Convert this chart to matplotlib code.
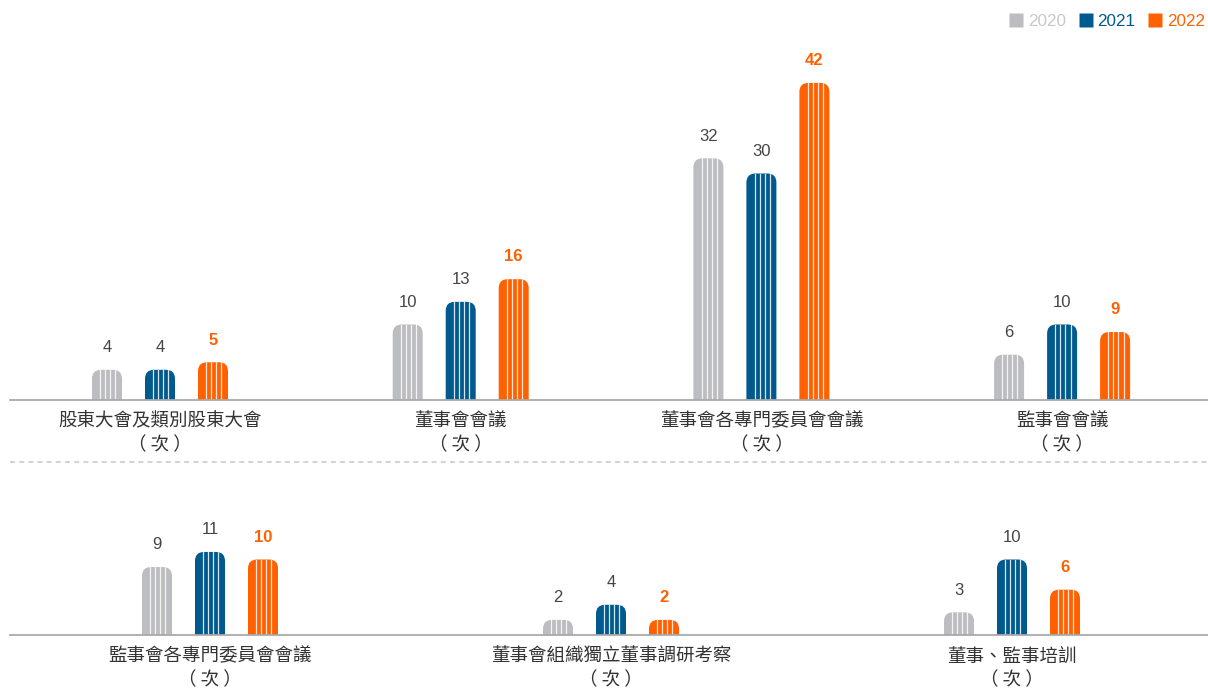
import matplotlib
matplotlib.use("Agg")
import matplotlib.pyplot as plt
from matplotlib.path import Path
from matplotlib.patches import PathPatch
from matplotlib.lines import Line2D

plt.rcParams['font.family'] = ['Liberation Sans', 'Noto Sans CJK TC']
CJK = ['Noto Sans CJK TC', 'DejaVu Sans']

# data
years = ['2020', '2021', '2022']
colors = ['#BCBDC0', '#005A8E', '#FF6000']
label_colors = ['#444444', '#444444', '#FF6000']

top_categories = ['股東大會及類別股東大會', '董事會會議', '董事會各專門委員會會議', '監事會會議']
top_2020 = [4, 10, 32, 6]
top_2021 = [4, 13, 30, 10]
top_2022 = [5, 16, 42, 9]

bottom_categories = ['監事會各專門委員會會議', '董事會組織獨立董事調研考察', '董事、監事培訓']
bottom_2020 = [9, 2, 3]
bottom_2021 = [11, 4, 10]
bottom_2022 = [10, 2, 6]

unit_label = '（ 次 ）'

W, H = 1208, 695
fig = plt.figure(figsize=(W / 100, H / 100), dpi=100)


def px_axes(left, top, right, bottom):
    ax = fig.add_axes([left / W, 1 - bottom / H, (right - left) / W, (bottom - top) / H])
    ax.axis('off')
    return ax


def scale(ax):
    x0, x1 = ax.get_xlim()
    y0, y1 = ax.get_ylim()
    pos = ax.get_position()
    return pos.width * W / (x1 - x0), pos.height * H / (y1 - y0)


def rounded_bar(ax, xc, h, color, w_px=30, r_px=9):
    sx, sy = scale(ax)
    w = w_px / sx
    rx = r_px / sx
    ry = min(r_px / sy, h)
    l, r = xc - w / 2, xc + w / 2
    verts = [(l, 0), (l, h - ry), (l, h), (l + rx, h), (r - rx, h), (r, h),
             (r, h - ry), (r, 0), (l, 0)]
    codes = [Path.MOVETO, Path.LINETO, Path.CURVE3, Path.CURVE3, Path.LINETO,
             Path.CURVE3, Path.CURVE3, Path.LINETO, Path.CLOSEPOLY]
    patch = PathPatch(Path(verts, codes), facecolor=color, edgecolor='none', zorder=2)
    ax.add_patch(patch)
    for f in (0.27, 0.44, 0.61, 0.78):
        ln, = ax.plot([l + f * w] * 2, [0, h], color='white', lw=0.9, alpha=0.85, zorder=3)
        ln.set_clip_path(patch)


def draw_row(ax, cats, series, gap_px=53):
    sx, sy = scale(ax)
    off = gap_px / sx
    for i, cat in enumerate(cats):
        for j, vals in enumerate(series):
            x = i + (j - 1) * off
            rounded_bar(ax, x, vals[i], colors[j])
            ax.annotate(str(vals[i]), xy=(x, vals[i]), xytext=(0, 16),
                        textcoords='offset points', ha='center', va='center',
                        fontsize=12, color=label_colors[j],
                        fontweight='bold' if j == 2 else 'normal')
        ax.annotate(cat, xy=(i, 0), xytext=(0, -15.5), textcoords='offset points',
                    ha='center', va='center', fontsize=13.3, color='#333333', family=CJK)
        ax.annotate(unit_label, xy=(i, 0), xytext=(0, -32.5), textcoords='offset points',
                    ha='center', va='center', fontsize=13.3, color='#333333', family=CJK)
    ax.axhline(0, color='#AAAAAA', lw=1.3, clip_on=False, zorder=4)


# top row
ax1 = px_axes(10, 30, 1208, 400)
ax1.set_xlim((10 - 160) / 300.7, (1208 - 160) / 300.7)
ax1.set_ylim(0, 370 / 7.55)
draw_row(ax1, top_categories, [top_2020, top_2021, top_2022])

# bottom row
ax2 = px_axes(10, 470, 1208, 635)
ax2.set_xlim((10 - 210) / 401, (1208 - 210) / 401)
ax2.set_ylim(0, 165 / 7.55)
draw_row(ax2, bottom_categories, [bottom_2020, bottom_2021, bottom_2022])

# dashed separator
fig.add_artist(Line2D([10 / W, 1], [1 - 462 / H] * 2, color='#CCCCCC', lw=1.2,
                      linestyle=(0, (3, 2.5))))

# legend
handles = [Line2D([], [], marker='s', linestyle='none', markersize=10.5,
                  markerfacecolor=c, markeredgecolor='none') for c in colors]
leg = fig.legend(handles, years, loc='upper right', bbox_to_anchor=(1.009, 1.0),
                 ncol=3, frameon=False, fontsize=12.3, handlelength=0.8,
                 handletextpad=0.3, columnspacing=0.75, borderaxespad=0.4)
for t, c in zip(leg.get_texts(), ['#C8C8C8', '#005A8E', '#FF6000']):
    t.set_color(c)

fig.savefig('out.png', dpi=100)
